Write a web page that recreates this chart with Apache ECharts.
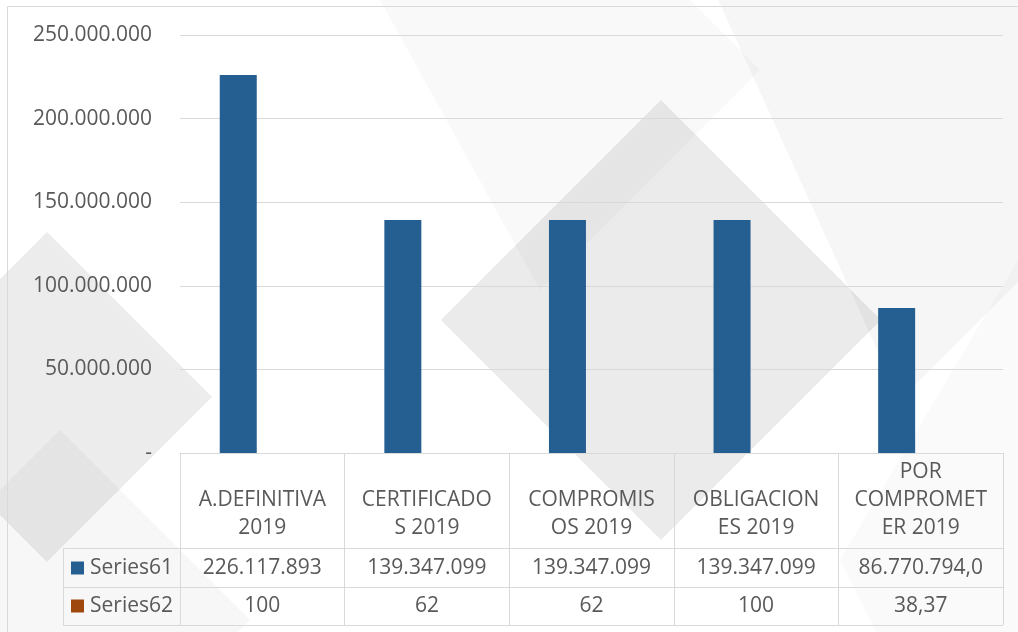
<!DOCTYPE html>
<html><head><meta charset="utf-8">
<script src="https://cdn.jsdelivr.net/npm/echarts@6/dist/echarts.min.js"></script>
<style>html,body{margin:0;padding:0;background:#fff}#c{width:1018px;height:632px}</style>
</head><body><div id="c"></div>
<script>
const categories = ['A.DEFINITIVA 2019', 'CERTIFICADOS 2019', 'COMPROMISOS 2019', 'OBLIGACIONES 2019', 'POR COMPROMETER 2019'];
const headerLabels = ['A.DEFINITIVA\n2019', 'CERTIFICADO\nS 2019', 'COMPROMIS\nOS 2019', 'OBLIGACION\nES 2019', 'POR\nCOMPROMET\nER 2019'];
const seriesNames = ['Series61', 'Series62'];
const series61 = [226117893, 139347099, 139347099, 139347099, 86770794];
const series62 = [100, 62, 62, 100, 38.37];
const series61Text = ['226.117.893', '139.347.099', '139.347.099', '139.347.099', '86.770.794,0'];
const series62Text = ['100', '62', '62', '100', '38,37'];
const seriesColors = ['#255e91', '#9e480e'];
const yMin = 0, yMax = 250000000, yStep = 50000000;

const FONT = "'Open Sans', 'DejaVu Sans', sans-serif";
const TXT = '#595959';
const LINE = '#d9d9d9';

function fmtY(v) {
  if (v === 0) return '-';
  return String(v).replace(/\B(?=(\d{3})+(?!\d))/g, '.');
}

const chart = echarts.init(document.getElementById('c'), null, {renderer: 'canvas'});

const bg = [
  {pts: [[700,-40],[1060,-40],[1060,240],[900,400]], c: 'rgba(0,0,0,0.035)'},
  {pts: [[47,232],[212,397],[47,562],[-118,397]], c: 'rgba(0,0,0,0.075)'},
  {pts: [[60,430],[250,620],[60,810],[-130,620]], c: 'rgba(0,0,0,0.03)'},
  {pts: [[540,-150],[760,70],[540,290],[380,0]], c: 'rgba(0,0,0,0.025)'},
  {pts: [[661,100],[881,320],[661,540],[441,320]], c: 'rgba(0,0,0,0.08)'},
  {pts: [[1018,260],[1018,640],[880,640],[840,560]], c: 'rgba(0,0,0,0.02)'}
];

const graphics = [];
bg.forEach(b => graphics.push({type: 'polygon', z: -100, silent: true, shape: {points: b.pts}, style: {fill: b.c}}));
graphics.push({type: 'rect', z: -50, silent: true, shape: {x: 7.5, y: 6.5, width: 1200, height: 800}, style: {fill: null, stroke: LINE, lineWidth: 1}});
[548.5, 587.5, 625.5].forEach(y => graphics.push({type: 'line', z: 10, silent: true, shape: {x1: 63, y1: y, x2: 1003, y2: y}, style: {stroke: LINE, lineWidth: 1}}));
graphics.push({type: 'line', z: 10, silent: true, shape: {x1: 63.5, y1: 548, x2: 63.5, y2: 626}, style: {stroke: LINE, lineWidth: 1}});
seriesNames.forEach((n, i) => {
  const cy = i === 0 ? 568 : 606;
  graphics.push({type: 'rect', z: 10, silent: true, shape: {x: 71, y: cy - 6.5, width: 13, height: 13}, style: {fill: seriesColors[i]}});
  graphics.push({type: 'text', z: 10, silent: true, x: 90, y: cy, style: {text: n, fill: TXT, font: "21px " + FONT, textVerticalAlign: 'middle', verticalAlign: 'middle'}});
});

chart.setOption({
  backgroundColor: '#ffffff',
  animation: false,
  graphic: {elements: graphics},
  grid: {left: 180, right: 15, top: 35, bottom: 179, containLabel: false},
  xAxis: {
    type: 'category',
    data: categories,
    boundaryGap: true,
    axisLine: {show: true, lineStyle: {color: LINE, width: 1}},
    axisTick: {show: true, interval: 0, length: 172, alignWithLabel: false, lineStyle: {color: LINE, width: 1}},
    axisLabel: {
      interval: 0,
      margin: 5,
      formatter: function (value, index) {
        const lines = headerLabels[index].split('\n');
        while (lines.length < 3) lines.unshift(' ');
        return lines.map(l => '{h|' + l + '}').join('\n') + '\n{a|' + series61Text[index] + '}\n{b|' + series62Text[index] + '}';
      },
      rich: {
        h: {fontFamily: FONT, fontSize: 21, color: TXT, lineHeight: 28},
        a: {fontFamily: FONT, fontSize: 21, color: TXT, lineHeight: 52},
        b: {fontFamily: FONT, fontSize: 21, color: TXT, lineHeight: 24}
      }
    }
  },
  yAxis: {
    type: 'value',
    min: yMin, max: yMax, interval: yStep,
    axisLine: {show: false},
    axisTick: {show: false},
    splitLine: {show: true, lineStyle: {color: LINE, width: 1}},
    axisLabel: {margin: 28, color: TXT, fontFamily: FONT, fontSize: 21, formatter: fmtY}
  },
  series: [
    {name: seriesNames[0], type: 'bar', data: series61, barWidth: 37, barGap: '30%', itemStyle: {color: seriesColors[0]}},
    {name: seriesNames[1], type: 'bar', data: series62, barWidth: 37, barGap: '30%', itemStyle: {color: seriesColors[1]}}
  ]
});
</script></body></html>
